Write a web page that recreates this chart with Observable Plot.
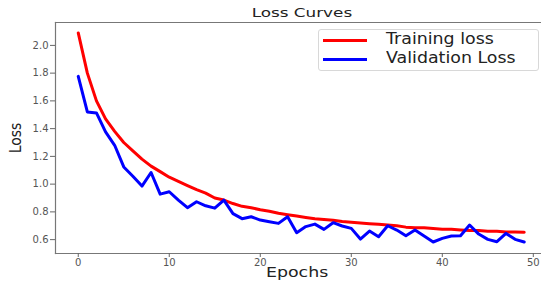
<!DOCTYPE html>
<html>
<head>
<meta charset="utf-8">
<script src="https://cdn.jsdelivr.net/npm/d3@7"></script>
<script src="https://cdn.jsdelivr.net/npm/@observablehq/plot@0.6"></script>
<style>
  html, body { margin: 0; padding: 0; background: #fff; }
  #wrap { position: relative; width: 541px; height: 282px; overflow: hidden; font-family: "DejaVu Sans", sans-serif; }
  .txt { position: absolute; white-space: nowrap; color: #222; transform-origin: center center; }
  #legend { position: absolute; left: 318px; top: 29px; width: 219px; height: 40px; border: 1px solid #d8d8d8; border-radius: 3px; background: #fff; }
  .lrow { position: absolute; left: 4px; height: 19px; }
  .lline { position: absolute; left: 0; top: 8px; width: 44px; height: 3px; }
  .ltext { position: absolute; left: 63px; top: -1px; font-size: 15px; color: #222; transform: scaleX(1.16); transform-origin: left center; white-space: nowrap; }
</style>
</head>
<body>
<div id="wrap"></div>
<script>
const epochs = [0,1,2,3,4,5,6,7,8,9,10,11,12,13,14,15,16,17,18,19,20,21,22,23,24,25,26,27,28,29,30,31,32,33,34,35,36,37,38,39,40,41,42,43,44,45,46,47,48,49];
const trainingLoss = [2.09,1.80,1.60,1.47,1.38,1.30,1.24,1.18,1.13,1.09,1.05,1.02,0.99,0.96,0.935,0.90,0.885,0.86,0.84,0.83,0.815,0.805,0.79,0.78,0.77,0.76,0.75,0.745,0.74,0.73,0.725,0.72,0.715,0.71,0.705,0.70,0.69,0.685,0.685,0.68,0.675,0.675,0.67,0.665,0.665,0.66,0.66,0.655,0.655,0.653];
const validationLoss = [1.777,1.52,1.513,1.376,1.28,1.124,1.057,0.986,1.084,0.928,0.945,0.885,0.83,0.873,0.844,0.827,0.885,0.787,0.751,0.765,0.741,0.729,0.717,0.765,0.65,0.694,0.712,0.674,0.722,0.698,0.681,0.604,0.662,0.621,0.70,0.669,0.628,0.669,0.626,0.583,0.609,0.626,0.628,0.705,0.64,0.602,0.585,0.645,0.602,0.583];
const xTicks = [0,10,20,30,40,50];
const yTicks = [0.6,0.8,1.0,1.2,1.4,1.6,1.8,2.0];
const seriesNames = ["Training loss","Validation Loss"];
const seriesColors = ["#ff0000","#0000ff"];
const titleText = "Loss Curves";
const xLabel = "Epochs";
const yLabel = "Loss";

const train = epochs.map((e,i) => ({epoch: e, loss: trainingLoss[i]}));
const valid = epochs.map((e,i) => ({epoch: e, loss: validationLoss[i]}));

const chart = Plot.plot({
  width: 541,
  height: 282,
  marginLeft: 55,
  marginTop: 22,
  marginBottom: 29,
  marginRight: 0,
  style: {fontFamily: "DejaVu Sans, sans-serif", fontSize: "10px", color: "#555", background: "#fff"},
  x: {domain: [-2.5, 50.9]},
  y: {domain: [0.5, 2.165]},
  marks: [
    Plot.frame({anchor: "top", stroke: "#777", strokeWidth: 1.2}),
    Plot.frame({anchor: "left", stroke: "#777", strokeWidth: 1.2}),
    Plot.frame({anchor: "bottom", stroke: "#777", strokeWidth: 1.2}),
    Plot.axisY({ticks: yTicks, tickFormat: d3.format(".1f"), tickSize: 5, tickPadding: 2, label: null, stroke: "#666", strokeOpacity: 1, fill: "#555", fontSize: 10}),
    Plot.axisX({ticks: xTicks, tickFormat: d3.format("d"), tickSize: 4, tickPadding: 1, label: null, stroke: "#666", strokeOpacity: 1, fill: "#555", fontSize: 10}),
    Plot.line(train, {x: "epoch", y: "loss", stroke: seriesColors[0], strokeWidth: 3}),
    Plot.line(valid, {x: "epoch", y: "loss", stroke: seriesColors[1], strokeWidth: 3})
  ]
});
const wrap = document.getElementById("wrap");
wrap.appendChild(chart);

function addText(text, cx, cy, size, transform) {
  const d = document.createElement("div");
  d.className = "txt";
  d.textContent = text;
  d.style.fontSize = size + "px";
  wrap.appendChild(d);
  const w = d.offsetWidth, h = d.offsetHeight;
  d.style.left = (cx - w / 2) + "px";
  d.style.top = (cy - h / 2) + "px";
  d.style.transform = transform;
}
addText(titleText, 301.5, 13, 12, "scaleX(1.4)");
addText(xLabel, 297, 272, 14, "scaleX(1.24)");
addText(yLabel, 15, 138, 14, "rotate(-90deg) scale(1, 1.1)");

const legend = document.createElement("div");
legend.id = "legend";
seriesNames.forEach((name, i) => {
  const row = document.createElement("div");
  row.className = "lrow";
  row.style.top = (1 + i * 19) + "px";
  const ln = document.createElement("div");
  ln.className = "lline";
  ln.style.background = seriesColors[i];
  const tx = document.createElement("div");
  tx.className = "ltext";
  tx.textContent = name;
  row.appendChild(ln);
  row.appendChild(tx);
  legend.appendChild(row);
});
wrap.appendChild(legend);
</script>
</body>
</html>
